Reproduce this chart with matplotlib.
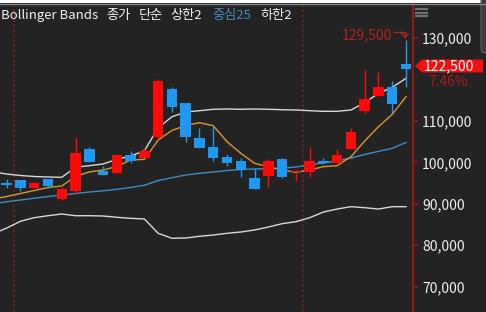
import matplotlib
matplotlib.use("Agg")
import matplotlib.pyplot as plt
import numpy as np
from matplotlib.transforms import Affine2D
from matplotlib.patches import Rectangle, Polygon, FancyBboxPatch
from matplotlib.lines import Line2D

plt.rcParams['font.family'] = ['Noto Sans CJK KR', 'DejaVu Sans']

# daily candles (30 sessions)
opens = [95000, 95700, 93900, 96000, 91200, 93200, 103200, 97900, 97500, 101800,
         101000, 106200, 117700, 114200, 105800, 103600, 101300, 100300, 96100, 96800,
         100800, 97600, 97600, 100300, 99900, 103200, 112500, 116100, 118200, 123700]
highs = [96000, 95700, 95300, 96000, 94100, 105800, 103800, 99100, 101800, 102700,
         103400, 120100, 118200, 114200, 108200, 108800, 101900, 101100, 98600, 100700,
         101100, 98200, 103600, 101000, 103200, 108200, 122300, 121900, 119600, 129500]
lows = [93700, 93000, 93700, 93900, 90900, 92700, 100100, 96900, 97500, 99900,
        101000, 105400, 112200, 105000, 103500, 100400, 99100, 96400, 93600, 94100,
        96100, 95600, 96500, 99500, 99900, 103200, 111800, 116100, 111800, 118200]
closes = [94500, 93900, 95100, 94300, 93500, 102300, 100100, 96900, 101800, 100400,
          102800, 119600, 113300, 106200, 103500, 101100, 99900, 98100, 93600, 100300,
          96500, 97700, 100200, 99800, 101800, 107200, 115200, 118200, 114000, 122500]

# indicator lines, first value belongs to the session before the window
upper = [97700, 97180, 96820, 96580, 96460, 96390, 98800, 99190, 99600, 100730,
         101530, 102800, 108300, 111000, 112140, 112460, 112800, 112870, 112800, 112870,
         112800, 112700, 112630, 112460, 112310, 112310, 112630, 114390, 116650, 118100,
         120280]
middle = [90000, 90480, 90910, 91340, 91750, 92120, 92480, 92840, 93130, 93490,
          93930, 94460, 95610, 96290, 96940, 97350, 97670, 98030, 98270, 98390,
          98460, 98560, 98870, 99430, 99840, 100320, 101040, 101890, 102660, 103380,
          104780]
lower = [82700, 84150, 85770, 86640, 87120, 87530, 87120, 87120, 87050, 86740,
         86490, 86330, 82870, 81670, 81740, 82150, 82460, 82870, 83190, 83670,
         84390, 85190, 85670, 86640, 88000, 88730, 89300, 89050, 88730, 89300,
         89300]
ma_short = [91100, 91750, 92480, 93200, 93930, 94290, 96600, 97670, 98150, 99000,
            100560, 100720, 105390, 107680, 108890, 109560, 108840, 104980, 102180, 99770,
            98950, 98150, 97590, 98150, 98950, 99190, 101360, 105150, 108600, 111590,
            115840]

# 120,000 is hidden behind the last price flag
yticks = [70000, 80000, 90000, 100000, 110000, 130000]
separators = [0.5, 21.5]

bg = '#232323'
up_color = '#ff0a0a'
down_color = '#1e98f0'

fig = plt.figure(figsize=(4.86, 3.12), dpi=100, facecolor=bg)
ax = fig.add_axes([0, 0, 413 / 486, 1])
ax.set_facecolor(bg)

x = np.arange(len(opens))
xl = np.arange(-1, len(opens))
o = np.array(opens); c = np.array(closes)
colors = [up_color if cc >= oo else down_color for oo, cc in zip(o, c)]

for xi in separators:
    ax.axvline(xi, color='#7a1f1f', lw=1.2, ls=(0, (1.5, 1.5)), zorder=1)

ax.plot(xl, lower, color='#d8d8d8', lw=1.0, zorder=2)
ax.plot(xl, middle, color='#3d8cc4', lw=1.0, zorder=2)
ax.plot(xl, upper, color='#d8d8d8', lw=1.0, zorder=2)
ax.plot(xl, ma_short, color='#d9952b', lw=1.0, zorder=2)

ax.vlines(x, lows, highs, colors=colors, lw=1.0, zorder=3)
body = np.maximum(np.abs(c - o), 350)
ax.bar(x, body, bottom=np.minimum(o, c), width=0.76, color=colors, zorder=4)

ax.set_xlim(-6.7 / 13.77, (413 - 6.7) / 13.77)
ax.set_ylim(130000 - 274 * 241.3, 130000 + 38 * 241.3)

ax.yaxis.tick_right()
ax.set_yticks(yticks)
ax.set_yticklabels([f"{v:,}" for v in yticks])
ax.tick_params(axis='y', direction='out', length=3.5, width=1.2, color='#8a1c1c',
               labelcolor='#f0f0f0', labelsize=10, pad=3)
ax.set_xticks([])
for s in ['top', 'left', 'bottom']:
    ax.spines[s].set_visible(False)
ax.spines['right'].set_color('#8a1c1c')
ax.spines['right'].set_linewidth(1.6)

# pixel transform for decorations (x right, y down from the top)
pix = Affine2D().scale(1 / 486, -1 / 312).translate(0, 1) + fig.transFigure

fig.patches.append(Rectangle((0, 0), 486, 3, transform=pix, fc='white', ec='none'))
fig.lines.append(Line2D([0, 486], [3.5, 3.5], transform=pix, color='#8a8a8a', lw=1))
fig.patches.append(FancyBboxPatch((481, -10), 12, 63, boxstyle='round,pad=0,rounding_size=4',
                                  transform=pix, fc='#3b3b42', ec='#5a5a62', lw=0.8))
for yy in [9, 12.5, 16]:
    fig.lines.append(Line2D([416, 427], [yy, yy], transform=pix, color='#707070', lw=1.6))

# legend-like title
title_parts = [("Bollinger Bands", 1, '#f2f2f2'), ("종가", 106, '#f2f2f2'),
               ("단순", 139, '#f2f2f2'), ("상한2", 170, '#f2f2f2'),
               ("중심25", 212, '#3d8cc4'), ("하한2", 260, '#f2f2f2')]
for txt, xp, col in title_parts:
    fig.text(xp / 486, 1 - 15 / 312, txt, color=col, fontsize=9.5, ha='left', va='center')

# last price flag
fig.patches.append(Polygon([(415, 66), (422, 59.5), (483, 59.5), (483, 72.5), (422, 72.5)],
                           closed=True, transform=pix, fc='#f01010', ec='none'))
fig.text(424 / 486, 1 - 66 / 312, "122,500", color='white', fontsize=10, ha='left', va='center')
fig.text(468 / 486, 1 - 82.5 / 312, "7.46%", color='#a81c1c', fontsize=10, ha='right', va='center')

# high marker
fig.text(392 / 486, 1 - 35 / 312, "129,500", color='#b52222', fontsize=10, ha='right', va='center')
fig.lines.append(Line2D([394, 405, 405], [31.5, 31.5, 37], transform=pix, color='#b52222', lw=1))
fig.lines.append(Line2D([402, 405, 408], [34, 37.5, 34], transform=pix, color='#b52222', lw=1))

plt.savefig('out.png', dpi=100, facecolor=bg)
